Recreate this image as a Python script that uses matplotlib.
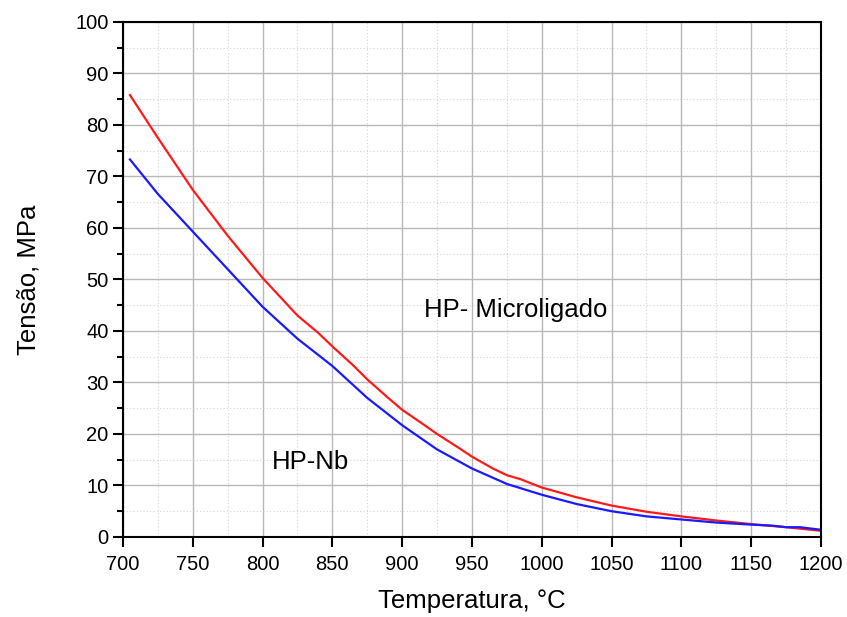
import matplotlib
matplotlib.use("Agg")
import matplotlib.pyplot as plt
from matplotlib.ticker import MultipleLocator

plt.rcParams["font.family"] = ["Liberation Sans", "DejaVu Sans"]

# HP-Microligado (red)
temp_micro = [705, 725, 750, 775, 800, 825, 840, 850, 865, 875, 890, 900, 915,
              925, 940, 950, 965, 975, 985, 1000, 1025, 1050, 1075, 1100,
              1125, 1150, 1175, 1200]
stress_micro = [85.8, 77.5, 67.4, 58.5, 50.3, 43.0, 39.6, 37.0, 33.3, 30.6,
                27.0, 24.7, 21.9, 20.0, 17.4, 15.6, 13.3, 12.0, 11.2, 9.6,
                7.7, 6.1, 4.9, 4.0, 3.2, 2.5, 1.9, 1.2]

# HP-Nb (blue)
temp_nb = [705, 725, 750, 775, 800, 825, 850, 875, 900, 925, 950, 975,
           1000, 1025, 1050, 1075, 1100, 1125, 1150, 1165, 1175, 1185, 1200]
stress_nb = [73.3, 66.6, 59.3, 52.0, 44.7, 38.5, 33.2, 27.0, 21.7, 17.0, 13.3,
             10.3, 8.2, 6.4, 5.0, 4.0, 3.4, 2.8, 2.4, 2.2, 1.9, 1.9, 1.4]

fig = plt.figure(figsize=(8.47, 6.17), dpi=100)
ax = fig.add_axes([0.1452, 0.1297, 0.824, 0.8347])

ax.plot(temp_micro, stress_micro, color="#ff1a1a", linewidth=1.6,
        solid_joinstyle="round")
ax.plot(temp_nb, stress_nb, color="#1a1aff", linewidth=1.6,
        solid_joinstyle="round")

ax.set_xlim(700, 1200)
ax.set_ylim(0, 100)
ax.xaxis.set_major_locator(MultipleLocator(50))
ax.xaxis.set_minor_locator(MultipleLocator(25))
ax.yaxis.set_major_locator(MultipleLocator(10))
ax.yaxis.set_minor_locator(MultipleLocator(5))

ax.grid(True, which="major", color="#b8b8b8", linewidth=1.0)
ax.grid(True, which="minor", color="#d4d4d4", linewidth=0.8, linestyle=(0, (1, 2)))
ax.set_axisbelow(True)

ax.tick_params(axis="both", which="major", direction="out", length=7, width=1.5,
               labelsize=14.5)
ax.tick_params(axis="x", which="major", pad=6)
ax.tick_params(axis="y", which="minor", direction="out", length=4, width=1.5)
ax.tick_params(axis="x", which="minor", length=0)
for spine in ax.spines.values():
    spine.set_linewidth(1.5)

ax.set_xlabel("Temperatura, °C", fontsize=18.5, labelpad=11)
ax.set_ylabel("Tensão, MPa", fontsize=18.5, labelpad=25)

ax.text(981, 44, "HP- Microligado", fontsize=18.5, ha="center", va="center")
ax.text(834, 14.6, "HP-Nb", fontsize=18.5, ha="center", va="center")

fig.savefig("out.png", dpi=100)
